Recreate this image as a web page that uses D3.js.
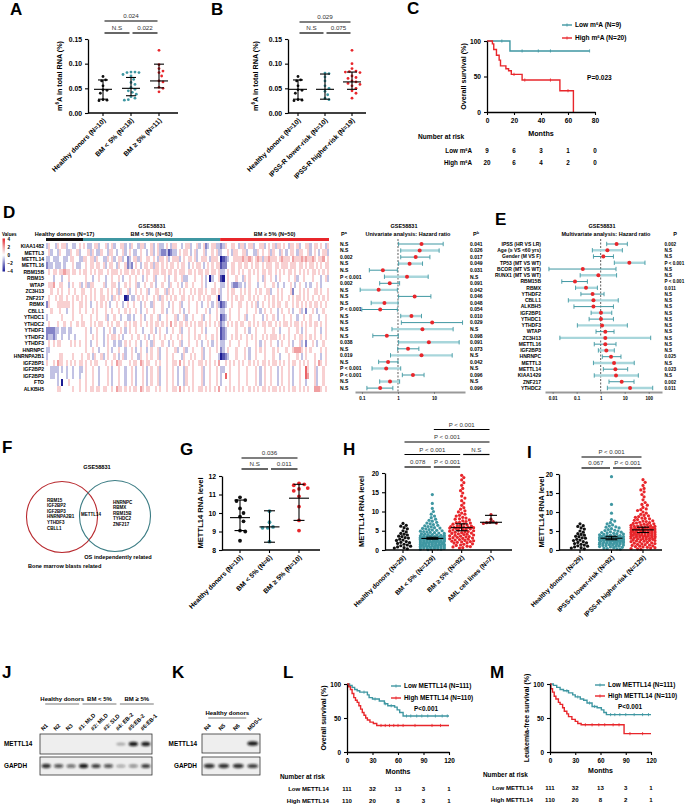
<!DOCTYPE html>
<html>
<head>
<meta charset="utf-8">
<script src="https://cdn.jsdelivr.net/npm/d3@7"></script>
<style>
  body { margin: 0; background: #fff; }
  svg { display: block; }
</style>
</head>
<body>
<div id="fig"></div>
<script>
var BLK = "#111111", TEAL = "#3f97a2", LTEAL = "#a8d6db", RED = "#e8262b";
var FONT = "'Liberation Sans', Arial, Helvetica, sans-serif";

// ---- A: m6A level by blast group ----
var aNames = ["Healthy donors (N=10)", "BM < 5% (N=18)", "BM ≥ 5% (N=11)"];
var aHealthy = [0.074, 0.067, 0.065, 0.055, 0.047, 0.046, 0.040, 0.027, 0.026, 0.025];
var aLow = [0.083, 0.083, 0.082, 0.082, 0.078, 0.075, 0.068, 0.062, 0.058, 0.052, 0.048, 0.045, 0.042, 0.038, 0.033, 0.030, 0.027, 0.026];
var aHigh = [0.127, 0.098, 0.090, 0.085, 0.082, 0.075, 0.065, 0.063, 0.052, 0.050, 0.043];
var aSumm = [[0.048, 0.028, 0.067], [0.050, 0.035, 0.072], [0.065, 0.051, 0.099]];

// ---- B: m6A level by IPSS-R ----
var bNames = ["Healthy donors (N=10)", "IPSS-R lower-risk (N=10)", "IPSS-R higher-risk (N=19)"];
var bLower = [0.081, 0.080, 0.073, 0.065, 0.055, 0.050, 0.044, 0.037, 0.030, 0.027];
var bHigher = [0.127, 0.100, 0.090, 0.085, 0.084, 0.083, 0.082, 0.075, 0.072, 0.070, 0.065, 0.063, 0.060, 0.058, 0.055, 0.050, 0.045, 0.040, 0.030];
var bSumm = [[0.048, 0.028, 0.067], [0.048, 0.028, 0.079], [0.063, 0.048, 0.083]];

// ---- C: survival by m6A ----
var cTicks = [0, 20, 40, 60, 80];
var cLowSteps = [[0, 100], [17, 86]];
var cLowCens = [11, 26, 38, 47, 76];
var cHighSteps = [[0, 100], [4, 96], [5, 88], [7, 80], [9, 73], [10, 65], [14, 61], [16, 58], [18, 53], [26, 45], [54, 30], [64, 0]];
var cHighCens = [20, 28, 47, 60];
var cRiskLow = [9, 6, 3, 1, 0];
var cRiskHigh = [20, 6, 4, 2, 0];

// ---- D: heatmap + univariate forest ----
var dGenes = ["KIAA1482", "METTL3", "METTL14", "METTL16", "RBM15B", "RBM15", "WTAP", "ZC3H13", "ZNF217", "RBMX", "CBLL1", "YTHDC1", "YTHDC2", "YTHDF1", "YTHDF2", "YTHDF3", "HNRNPC", "HNRNPA2B1", "IGF2BP1", "IGF2BP2", "IGF2BP3", "FTO", "ALKBH5"];
var dGroups = ["Healthy donors (N=17)", "BM < 5% (N=63)", "BM ≥ 5% (N=50)"];
var dGroupSize = [17, 63, 50];
// one digit per sample, digit - 4 = z value
var dHeat = [
  ["3544354553 4433454", "5433455344 5345344553 4354435534 4534533454 3554434553 4453452345 533", "2354455435 5345534455 3454535545 4355453445 5345545435"],
  ["4534435443 3544534", "4453543354 4355434453 4543345443 4534532231 2334545543 4534453445 453", "3445435544 5534433545 4453544354 3455435544 5345434553"],
  ["3343334433 4554433", "5545535443 3545345534 2345535445 5454355453 4555345455 4534555435 554", "0123445555 6556545653 5565554565 5546555656 5565455645"],
  ["2334333434 4454334", "4545545545 3455435445 2324543455 4535545454 5545455434 5455434545 455", "1224455455 4554545545 4555455455 5455545545 4554545455"],
  ["4545545565 5455454", "5545454554 4545554545 5455454545 5455545545 5454555455 4545545545 545", "3345455454 5445454545 5455454545 4554545454 5455454545"],
  ["4443444344 5444444", "4544344544 3445445434 4544544345 4453444543 4454453344 4544543403 445", "1045444544 3545444543 5445434544 4544534454 4454443453"],
  ["4556445544 3454453", "4535544445 3445543445 4544534454 4543445443 5445434544 5444543444 544", "3345432233 4345444344 5444543443 4454345443 4344543444"],
  ["4454454544 5445445", "5445454454 4545453544 5344545445 3445544535 4544545445 4545545445 545", "3445455445 4545445454 4553445454 4452445454 5445545445"],
  ["4544545545 4454545", "4545454455 4543545440 1433454545 4454535454 5454455454 5445454554 450", "3445454545 5445454544 5454545454 4545455454 5454454545"],
  ["2544455555 5454455", "4543445454 5434454434 5445443454 4354445443 4544534454 4454344543 453", "1234454455 4454545345 4454545544 5445454545 4545545454"],
  ["4454445443 4454454", "4544545444 5445445445 4544543445 4454445434 4544543454 4454445434 454", "3344544454 4454445434 5445443454 4543445342 4454344544"],
  ["3444444544 4454445", "4445445444 5344544344 3343445434 4544534454 4453445344 5444534454 454", "1234544454 4534454443 4544543445 4454434454 4544434454"],
  ["4544454454 4544545", "5445454554 4545455445 4545545445 4545545454 6454554545 4545545454 545", "2345454545 5445454545 5455454545 5454554545 4545545454"],
  ["2222334334 3344444", "4543445443 4454344543 4544544344 4543454434 4544534454 4544543444 454", "1234444544 4543445444 5444544344 4544454345 4445443454"],
  ["2332344344 3443444", "4544545443 4545545434 4454454454 3454454544 5445454454 4545445445 454", "1234454545 4454545445 4545554545 4544545545 4545445454"],
  ["4545455444 4545454", "4543445443 4544343345 4544543445 4354445443 4544534454 4454344543 454", "3344544454 4454445434 5445443454 4543445342 4454344544"],
  ["3344444444 4444444", "4544544344 4543445443 4454345443 4544534454 4453445344 5444534454 454", "2345444544 4543445454 5444545444 5445666545 4544445454"],
  ["3444445544 4454445", "4454354453 4544543453 4454435445 4544534454 4544435445 4544534454 443", "0123444544 4543445444 5444544344 4544454345 4445443454"],
  ["5445465545 4545455", "4545455444 5445465544 4545546545 5445454454 4554645454 5445545454 546", "4454545454 5445454545 5454554545 4545545454 5445465454"],
  ["4433334343 4434433", "4544544344 4543445443 4454344543 4544534454 4543443544 5444534454 454", "3344544454 4454445434 5445443454 4543445447 5445344544"],
  ["4433434443 4434434", "4544544344 4543445443 4454344543 4544534454 4543443544 5444534454 454", "3474544454 4454445434 5445443454 4543445447 6445344544"],
  ["4444434044 5444454", "4544544344 4543445443 4454344543 4544534454 4543443544 5444534454 454", "3444544454 4454445434 5445443454 4543445443 4445344544"],
  ["4444455444 4454454", "4545545545 5445465545 4545546545 5445454454 4554645454 5445545454 546", "4454545454 5445454545 5454554545 4545545454 5446665454"]
];
var dHR = [4.5, 4.0, 3.1, 2.1, 0.38, 1.78, 0.59, 0.29, 2.9, 0.42, 0.32, 2.36, 8.9, 4.77, 0.49, 7.2, 1.9, 4.5, 0.53, 0.47, 2.6, 0.6, 0.32];
var dLo = [1.04, 1.19, 1.19, 1.04, 0.16, 0.42, 0.31, 0.089, 1.04, 0.18, 0.099, 1.19, 1.24, 0.68, 0.2, 1.04, 0.98, 0.62, 0.29, 0.19, 1.32, 0.31, 0.137];
var dHi = [18, 13.9, 7.7, 4.8, 0.96, 6.9, 1.11, 0.96, 8.2, 1.0, 0.96, 4.5, 62, 34, 1.02, 50, 3.8, 32, 1.0, 1.19, 5.3, 1.11, 0.72];
var dPa = ["N.S", "N.S", "0.002", "N.S", "N.S", "P < 0.001", "0.002", "N.S", "N.S", "N.S", "P < 0.001", "N.S", "N.S", "N.S", "N.S", "0.038", "N.S", "0.019", "N.S", "P < 0.001", "P < 0.001", "N.S", "N.S"];
var dPb = ["0.041", "0.026", "0.017", "0.049", "0.031", "N.S", "0.091", "0.042", "0.046", "0.048", "0.054", "0.010", "0.029", "N.S", "0.098", "0.091", "0.073", "N.S", "0.042", "N.S", "0.096", "N.S", "0.096"];

// ---- E: multivariate forest ----
var eRows = ["IPSS (HR VS LR)", "Age (≥ VS <60 yrs)", "Gender (M VS F)", "TP53 (MT VS WT)", "BCOR (MT VS WT)", "RUNX1 (MT VS WT)", "RBM15B", "RBMX", "YTHDF2", "CBLL1", "ALKBH5", "IGF2BP1", "YTHDC1", "YTHDF3", "WTAP", "ZC3H13", "METTL16", "IGF2BP3", "HNRNPC", "METTL3", "METTL14", "KIAA1429", "ZNF217", "YTHDC2"];
var eHR = [4.6, 1.9, 1.29, 15.6, 0.18, 0.8, 0.085, 0.245, 0.46, 0.5, 0.5, 1.03, 1.03, 1.14, 1.56, 1.56, 1.56, 1.72, 2.7, 3.6, 4.1, 4.35, 7.5, 16.7];
var eLo = [1.78, 0.45, 0.5, 3.7, 0.007, 0.14, 0.024, 0.09, 0.15, 0.045, 0.077, 0.4, 0.33, 0.107, 0.64, 0.02, 0.54, 0.8, 1.17, 0.5, 1.29, 0.54, 2.22, 1.9];
var eHi = [12.9, 8.0, 3.4, 70, 4.35, 4.6, 0.28, 0.73, 1.38, 5.4, 3.4, 2.9, 3.4, 12.9, 3.6, 121, 4.35, 3.7, 7.0, 25, 13.3, 37, 24.5, 147];
var eP = ["0.002", "N.S", "N.S", "P < 0.001", "N.S", "N.S", "P < 0.001", "0.011", "N.S", "N.S", "N.S", "N.S", "N.S", "N.S", "N.S", "N.S", "N.S", "N.S", "0.025", "N.S", "0.023", "N.S", "0.002", "0.011"];

// ---- F: venn ----
var fBlasts = ["RBM15", "IGF2BP2", "IGF2BP3", "HNRNPA2B1", "YTHDF3", "CBLL1"];
var fShared = ["METTL14"];
var fOS = ["HNRNPC", "RBMX", "RBM15B", "TYHDC2", "ZNF217"];

// ---- G: METTL14 qPCR ----
var gNames = ["Healthy donors (N=10)", "BM < 5% (N=6)", "BM ≥ 5% (N=10)"];
var gHealthy = [10.85, 10.7, 10.65, 10.25, 10.0, 9.8, 9.55, 9.05, 9.0, 8.5];
var gLow = [10.1, 9.5, 9.25, 9.2, 9.2, 8.45];
var gHigh = [11.6, 11.55, 11.5, 11.35, 11.3, 11.2, 10.9, 10.35, 9.6, 9.05];
var gSumm = [[9.75, 9.05, 10.7], [9.25, 8.42, 10.12], [10.8, 9.6, 11.55]];

// ---- H / I: METTL14 RNA in GSE58831 ----
var hNames = ["Healthy donors (N=29)", "BM < 5% (N=129)", "BM ≥ 5% (N=92)", "AML cell lines (N=7)"];
var hHealthy = [0.3, 0.5, 0.6, 0.8, 1.0, 1.1, 1.3, 1.5, 1.7, 1.9, 2.0, 2.2, 2.5, 2.6, 2.8, 3.1, 3.2, 3.5, 3.6, 3.9, 4.1, 4.3, 4.7, 5.0, 5.5, 5.8, 6.2, 6.4, 6.9];
var hLow = [14.4, 12.1, 10.8, 10.0, 9.3, 8.8, 8.4, 8.0, 7.7, 7.5, 7.2, 7.0, 6.8, 6.6, 6.4, 6.3, 6.1, 6.0, 5.8, 5.7, 5.6, 5.5, 5.3, 5.2, 5.1, 5.0, 4.9, 4.8, 4.7, 4.6, 4.5, 4.4, 4.3, 4.2, 4.1, 4.0, 4.0, 3.9, 3.8, 3.8, 3.7, 3.6, 3.6, 3.5, 3.5, 3.4, 3.4, 3.3, 3.3, 3.2, 3.2, 3.1, 3.1, 3.0, 3.0, 3.0, 2.9, 2.9, 2.8, 2.8, 2.8, 2.7, 2.7, 2.6, 2.6, 2.6, 2.5, 2.5, 2.4, 2.4, 2.4, 2.3, 2.3, 2.2, 2.2, 2.2, 2.1, 2.1, 2.0, 2.0, 2.0, 1.9, 1.9, 1.8, 1.8, 1.8, 1.7, 1.7, 1.6, 1.6, 1.6, 1.5, 1.5, 1.4, 1.4, 1.4, 1.3, 1.3, 1.2, 1.2, 1.2, 1.1, 1.1, 1.0, 1.0, 1.0, 0.9, 0.9, 0.8, 0.8, 0.7, 0.7, 0.6, 0.6, 0.5, 0.5, 0.4, 0.4, 0.3, 0.3, 0.2, 0.2, 0.1, 3.0, 3.1, 2.9, 3.2, 2.8, 3.3];
var hHigh = [19.4, 18.8, 18.2, 17.5, 16.8, 16.0, 15.4, 14.8, 14.0, 13.5, 12.8, 12.2, 11.6, 11.0, 10.6, 10.2, 9.9, 9.6, 9.3, 9.0, 8.8, 8.5, 8.3, 8.0, 7.8, 7.6, 7.4, 7.2, 7.0, 6.8, 6.7, 6.5, 6.4, 6.2, 6.1, 6.0, 5.9, 5.8, 5.8, 5.7, 5.6, 5.5, 5.4, 5.3, 5.2, 5.1, 5.0, 4.9, 4.8, 4.7, 4.6, 4.5, 4.4, 4.3, 4.2, 4.1, 4.0, 3.9, 3.8, 3.7, 3.6, 3.5, 3.4, 3.3, 3.2, 3.1, 3.0, 2.9, 2.8, 2.7, 2.6, 2.5, 2.4, 2.3, 2.2, 2.1, 2.0, 1.9, 1.8, 1.6, 1.5, 1.3, 1.2, 1.0, 0.9, 0.8, 0.6, 0.5, 6.3, 5.9, 7.1, 8.1];
var hAML = [9.2, 8.0, 7.4, 7.2, 7.1, 6.9, 7.0];
var hSumm = [null, [3.0, 2.8, 3.3], [5.8, 5.0, 6.8], [7.2, 7.0, 9.0]];

var iNames = ["Healthy donors (N=29)", "IPSS-R lower-risk (N=92)", "IPSS-R higher-risk (N=129)"];
var iLower = [19.3, 12.0, 9.7, 8.0, 7.6, 7.2, 6.9, 6.6, 6.3, 6.0, 5.8, 5.6, 5.4, 5.2, 5.0, 4.8, 4.7, 4.5, 4.4, 4.2, 4.1, 4.0, 3.9, 3.8, 3.7, 3.6, 3.5, 3.4, 3.4, 3.3, 3.3, 3.2, 3.1, 3.1, 3.0, 3.0, 2.9, 2.9, 2.8, 2.8, 2.7, 2.7, 2.6, 2.6, 2.5, 2.5, 2.4, 2.4, 2.3, 2.3, 2.2, 2.2, 2.1, 2.1, 2.0, 2.0, 1.9, 1.9, 1.8, 1.8, 1.7, 1.7, 1.6, 1.5, 1.5, 1.4, 1.3, 1.3, 1.2, 1.1, 1.0, 1.0, 0.9, 0.8, 0.7, 0.6, 0.5, 0.4, 0.3, 0.2, 3.5, 3.0, 2.5, 4.3, 3.8, 2.9, 1.6, 5.1, 6.1, 4.6, 3.2, 2.7];
var iHigher = [18.5, 17.8, 17.0, 16.2, 15.8, 15.3, 14.6, 14.0, 13.2, 12.5, 11.8, 11.2, 10.8, 10.4, 10.0, 9.7, 9.4, 9.1, 8.8, 8.6, 8.4, 8.2, 8.0, 7.8, 7.6, 7.5, 7.3, 7.1, 7.0, 6.8, 6.7, 6.6, 6.4, 6.3, 6.2, 6.1, 6.0, 5.9, 5.8, 5.7, 5.6, 5.5, 5.5, 5.4, 5.3, 5.3, 5.2, 5.1, 5.0, 5.0, 4.9, 4.8, 4.8, 4.7, 4.6, 4.6, 4.5, 4.4, 4.4, 4.3, 4.2, 4.2, 4.1, 4.0, 4.0, 3.9, 3.8, 3.8, 3.7, 3.6, 3.6, 3.5, 3.4, 3.4, 3.3, 3.2, 3.2, 3.1, 3.0, 3.0, 2.9, 2.8, 2.7, 2.6, 2.5, 2.5, 2.4, 2.3, 2.2, 2.1, 2.0, 1.9, 1.8, 1.7, 1.6, 1.5, 1.4, 1.3, 1.2, 1.1, 1.0, 0.9, 0.8, 0.7, 0.6, 0.5, 0.4, 0.3, 0.2, 6.5, 5.9, 7.2, 4.9, 5.6, 6.9, 8.3, 9.0, 3.9, 4.4, 5.1, 2.8, 3.5, 6.0, 7.7, 10.6, 12.0, 5.4, 4.7, 6.2];
var iSumm = [null, [3.1, 2.7, 3.6], [5.3, 4.6, 6.0]];

// ---- J / K: western blots (band intensity 0..1) ----
var jLanes = ["N1", "N2", "N3", "#1: MLD", "#2: MLD", "#3: SLD", "#4: EB-2", "#5:EB-2", "#6:EB-1"];
var jMettl = [0, 0, 0, 0, 0, 0, 0.3, 0.95, 0.92];
var jGapdh = [0.85, 0.7, 0.6, 0.95, 0.8, 0.7, 0.35, 0.45, 0.8];
var jGroups = [["Healthy donors", 0, 2], ["BM < 5%", 3, 5], ["BM ≥ 5%", 6, 8]];
var kLanes = ["N4", "N5", "N6", "MDS-L"];
var kMettl = [0, 0, 0, 0.95];
var kGapdh = [0.85, 0.85, 0.85, 0.8];
var kGroups = [["Healthy donors", 0, 2]];

// ---- L / M: survival by METTL14 ----
var lmTicks = [0, 30, 60, 90, 120];
var lLowSteps = [[0, 100], [3, 98], [6, 95], [9, 92], [12, 90], [15, 88], [24, 84], [26, 80], [30, 78], [38, 75], [44, 71], [48, 68], [56, 66], [59, 62], [62, 58], [66, 53]];
var lLowCens = [20, 33, 45, 52, 70, 75, 82, 88, 95, 104, 112, 118];
var lHighSteps = [[0, 100], [2, 96], [4, 92], [6, 86], [8, 80], [10, 76], [12, 73], [14, 68], [16, 63], [18, 58], [20, 54], [22, 50], [24, 47], [27, 44], [31, 42], [35, 39]];
var lHighCens = [40, 45, 50, 55, 60, 66, 80, 100, 110];
var lRiskLow = [111, 32, 13, 3, 1];
var lRiskHigh = [110, 20, 8, 3, 1];
var mLowSteps = [[0, 100], [4, 98], [8, 95], [12, 92], [16, 90], [22, 87], [27, 84], [30, 81], [36, 78], [40, 76], [44, 72], [50, 67], [56, 65], [61, 62], [64, 58], [67, 55]];
var mLowCens = [20, 33, 47, 53, 72, 77, 83, 90, 100, 110, 117];
var mHighSteps = [[0, 100], [1, 93], [3, 88], [5, 82], [7, 78], [10, 73], [12, 70], [15, 65], [17, 60], [20, 56], [22, 52], [26, 48], [30, 45], [33, 42], [37, 40], [88, 27]];
var mHighCens = [42, 50, 58, 65, 75, 82, 95, 110];
var mRiskLow = [111, 32, 13, 3, 1];
var mRiskHigh = [110, 20, 8, 2, 1];

var svg = d3.select("#fig").append("svg").attr("width", 685).attr("height", 806)
  .attr("font-family", FONT).attr("font-weight", "bold");
var defs = svg.append("defs");
defs.append("filter").attr("id", "blur").attr("x", "-50%").attr("y", "-150%").attr("width", "200%").attr("height", "400%")
  .append("feGaussianBlur").attr("stdDeviation", 0.8);

function txt(x, y, s, fs, anchor, parent) {
  return (parent || svg).append("text").attr("x", x).attr("y", y).attr("font-size", fs)
    .attr("text-anchor", anchor || "start").text(s);
}
// text with "m6A" written as m superscript 6 A
function rich(sel, str, fs) {
  str.split("m6A").forEach(function (p, i) {
    if (i === 0) { sel.append("tspan").text(p); return; }
    sel.append("tspan").text("m");
    sel.append("tspan").attr("dy", -fs * 0.38).attr("font-size", fs * 0.65).text("6");
    sel.append("tspan").attr("dy", fs * 0.38).text("A" + p);
  });
  return sel;
}
function styleAxis(ax, fs) {
  ax.attr("font-family", FONT).attr("font-size", fs).attr("font-weight", "bold");
  ax.select(".domain").attr("stroke", "#000").attr("stroke-width", 1.3);
  ax.selectAll(".tick line").attr("stroke", "#000").attr("stroke-width", 1.1);
  ax.selectAll(".tick text").attr("fill", "#000");
}
function letter(s, x, y) { txt(x, y, s, 17, "start"); }

// simple beeswarm: place each point at the nearest free offset
function swarm(vals, y, sep, maxW) {
  var pts = vals.map(function (v) { return { v: v, py: y(v) }; })
    .sort(function (a, b) { return a.py - b.py; });
  var placed = [];
  pts.forEach(function (p) {
    var best = 0, bestC = Infinity;
    for (var k = 0; k < 100; k++) {
      var dx = (k % 2 ? 1 : -1) * Math.ceil(k / 2) * sep * 0.35;
      if (Math.abs(dx) > maxW / 2) break;
      var c = 0;
      placed.forEach(function (q) {
        var dd = Math.hypot(q.dx - dx, q.py - p.py);
        if (dd < sep) c += sep - dd;
      });
      if (c === 0) { best = dx; bestC = 0; break; }
      if (c < bestC) { bestC = c; best = dx; }
    }
    p.dx = best;
    placed.push(p);
  });
  return pts;
}

function scatterPanel(o) {
  var g = svg.append("g");
  var x = d3.scalePoint().domain(d3.range(o.names.length)).range(o.cats);
  var y = d3.scaleLinear().domain(o.domain).range(o.yr);
  o.series.forEach(function (vals, i) {
    var pts = swarm(vals, y, o.sep, o.maxW);
    g.append("g").selectAll("circle").data(pts).join("circle")
      .attr("cx", function (d) { return x(i) + d.dx; })
      .attr("cy", function (d) { return d.py; })
      .attr("r", o.r).attr("fill", o.colors[i]);
  });
  o.summ.forEach(function (s, i) {
    if (!s) return;
    var cx = x(i), gs = g.append("g").attr("stroke", "#000").attr("stroke-width", 1.1);
    gs.append("line").attr("x1", cx - o.mw).attr("x2", cx + o.mw).attr("y1", y(s[0])).attr("y2", y(s[0]));
    gs.append("line").attr("x1", cx).attr("x2", cx).attr("y1", y(s[1])).attr("y2", y(s[2]));
    [s[1], s[2]].forEach(function (v) {
      gs.append("line").attr("x1", cx - o.cw).attr("x2", cx + o.cw).attr("y1", y(v)).attr("y2", y(v));
    });
  });
  var ya = g.append("g").attr("transform", "translate(" + o.ax[0] + ",0)")
    .call(d3.axisLeft(y).tickValues(o.ticks).tickFormat(o.fmt).tickSize(3).tickSizeOuter(0));
  styleAxis(ya, o.fs);
  g.append("line").attr("x1", o.ax[0]).attr("x2", o.ax[1]).attr("y1", o.yr[0]).attr("y2", o.yr[0])
    .attr("stroke", "#000").attr("stroke-width", 1.3);
  g.selectAll("line.xt").data(x.domain()).join("line").attr("class", "xt")
    .attr("x1", function (i) { return x(i); }).attr("x2", function (i) { return x(i); })
    .attr("y1", o.yr[0]).attr("y2", o.yr[0] + 3).attr("stroke", "#000").attr("stroke-width", 1.1);
  g.selectAll("text.xl").data(o.names).join("text").attr("class", "xl")
    .attr("transform", function (d, i) { return "translate(" + (x(i) + 3) + "," + (o.yr[0] + 8) + ") rotate(-45)"; })
    .attr("text-anchor", "end").attr("font-size", o.fs).text(function (d) { return d; });
  var yt = g.append("text").attr("font-size", o.tfs)
    .attr("transform", "translate(" + o.ytx + "," + ((o.yr[0] + o.yr[1]) / 2) + ") rotate(-90)")
    .attr("text-anchor", "middle");
  rich(yt, o.ylab, o.tfs);
  o.br.forEach(function (b) {
    var yl = o.brY0 - b[3] * o.brStep, x1 = x(b[0]) + 1.5, x2 = x(b[1]) - 1.5;
    g.append("line").attr("x1", x1).attr("x2", x2).attr("y1", yl).attr("y2", yl)
      .attr("stroke", "#000").attr("stroke-width", 1.2);
    txt((x1 + x2) / 2, yl - 3, b[2], o.fs * 0.92, "middle", g).attr("font-weight", "normal").attr("fill", "#333");
  });
}

function survAt(steps, t) {
  var s = 100;
  steps.forEach(function (d) { if (d[0] <= t) s = d[1]; });
  return s;
}
function kmPanel(o) {
  var g = svg.append("g");
  var x = d3.scaleLinear().domain([0, o.tmax]).range([o.x0, o.x1]);
  var y = d3.scaleLinear().domain([0, 100]).range([o.y0, o.y1]);
  var line = d3.line().x(function (d) { return x(d[0]); }).y(function (d) { return y(d[1]); });
  o.curves.forEach(function (c) {
    var pts = [], prev = 100;
    c.steps.forEach(function (s) { pts.push([s[0], prev]); pts.push([s[0], s[1]]); prev = s[1]; });
    pts.push([c.end, prev]);
    g.append("path").attr("d", line(pts)).attr("fill", "none").attr("stroke", c.color).attr("stroke-width", 1.4);
    g.selectAll(null).data(c.cens).join("line")
      .attr("x1", function (t) { return x(t); }).attr("x2", function (t) { return x(t); })
      .attr("y1", function (t) { return y(survAt(c.steps, t)) - 1.6; })
      .attr("y2", function (t) { return y(survAt(c.steps, t)) + 1.6; })
      .attr("stroke", c.color).attr("stroke-width", 0.8);
  });
  var ya = g.append("g").attr("transform", "translate(" + o.x0 + ",0)")
    .call(d3.axisLeft(y).tickValues([0, 50, 100]).tickSize(3).tickSizeOuter(0));
  styleAxis(ya, o.fs);
  var xa = g.append("g").attr("transform", "translate(0," + o.y0 + ")")
    .call(d3.axisBottom(x).tickValues(o.ticks).tickSize(3).tickSizeOuter(0));
  styleAxis(xa, o.fs);
  txt((o.x0 + o.x1) / 2, o.xly, "Months", o.tfs, "middle", g);
  g.append("text").attr("font-size", o.tfs).attr("text-anchor", "middle")
    .attr("transform", "translate(" + o.ytx + "," + ((o.y0 + o.y1) / 2) + ") rotate(-90)").text(o.ylab);
  o.curves.forEach(function (c, i) {
    var ly = o.legY[i];
    g.append("line").attr("x1", o.legX).attr("x2", o.legX + 10).attr("y1", ly).attr("y2", ly)
      .attr("stroke", c.color).attr("stroke-width", 1.4);
    g.append("line").attr("x1", o.legX + 5).attr("x2", o.legX + 5).attr("y1", ly - 1.6).attr("y2", ly + 1.6)
      .attr("stroke", c.color).attr("stroke-width", 0.8);
    rich(txt(o.legX + 13, ly + 2.3, "", o.fs, "start", g), c.name, o.fs);
  });
  txt(o.pX, o.pY, o.p, o.fs, o.pAnchor, g);
  txt(o.riskX, o.riskY, "Number at risk", o.fs, "start", g);
  o.curves.forEach(function (c, i) {
    var ry = o.riskRowY[i];
    rich(txt(o.riskLX, ry, "", o.fs * 0.95, "end", g), c.short, o.fs * 0.95);
    g.selectAll(null).data(c.risk).join("text")
      .attr("x", function (d, j) { return x(o.ticks[j]); }).attr("y", ry)
      .attr("font-size", o.fs * 0.95).attr("text-anchor", "middle").text(function (d) { return d; });
  });
}

function forestPanel(o) {
  var g = svg.append("g");
  var x = d3.scaleLog().domain(o.domain).range(o.xr);
  var yy = function (i) { return o.y0 + i * o.step; };
  var n = o.hr.length;
  g.append("line").attr("x1", x(1)).attr("x2", x(1)).attr("y1", o.y0 - 5).attr("y2", o.axisY)
    .attr("stroke", "#333").attr("stroke-width", 0.8).attr("stroke-dasharray", "2,1.5");
  d3.range(n).forEach(function (i) {
    var light = i % 2 === 1, yc = yy(i);
    g.append("line").attr("x1", x(o.lo[i])).attr("x2", x(o.hi[i])).attr("y1", yc).attr("y2", yc)
      .attr("stroke", light ? LTEAL : TEAL).attr("stroke-width", light ? 2.4 : 1);
    [o.lo[i], o.hi[i]].forEach(function (v) {
      g.append("line").attr("x1", x(v)).attr("x2", x(v)).attr("y1", yc - 2.2).attr("y2", yc + 2.2)
        .attr("stroke", TEAL).attr("stroke-width", 0.9);
    });
    g.append("circle").attr("cx", x(o.hr[i])).attr("cy", yc).attr("r", 2).attr("fill", RED);
  });
  var xa = g.append("g").attr("transform", "translate(0," + o.axisY + ")")
    .call(d3.axisBottom(x).tickValues(o.ticks).tickFormat(function (d) { return String(d); }).tickSize(2).tickSizeOuter(0));
  styleAxis(xa, 4.5);
  xa.select(".domain").attr("stroke", "#999").attr("stroke-width", 1.8);
  xa.selectAll(".tick line").attr("stroke", "#555").attr("stroke-width", 0.6);
  txt(o.titleX, 228, "GSE58831", 5.5, "middle", g);
  txt(o.titleX + 4, 235.5, o.title, 5.5, "middle", g);
  o.cols.forEach(function (c) {
    var h = txt(c.hx, 235.5, c.head, 5.5, "middle", g);
    if (c.sup) h.append("tspan").attr("dy", -2).attr("font-size", 3.8).text(c.sup);
    g.selectAll(null).data(c.vals).join("text")
      .attr("x", c.x).attr("y", function (d, i) { return yy(i) + 1.8; })
      .attr("font-size", c.fs || 5).text(function (d) { return d; });
  });
  if (o.labels) {
    g.selectAll(null).data(o.labels).join("text")
      .attr("x", o.lx).attr("y", function (d, i) { return yy(i) + 1.8; })
      .attr("font-size", 5).attr("text-anchor", "end").text(function (d) { return d; });
  }
}

function blotPanel(o) {
  var g = svg.append("g");
  var x = d3.scalePoint().domain(o.lanes).range([o.x0, o.x1]).padding(0.5);
  var bw = x.step() * 0.74;
  o.rows.forEach(function (r) {
    g.append("rect").attr("x", o.x0).attr("y", r.y0).attr("width", o.x1 - o.x0).attr("height", r.y1 - r.y0)
      .attr("fill", "#eeeeee").attr("stroke", "#333").attr("stroke-width", 0.8);
    g.append("g").attr("filter", "url(#blur)").selectAll("ellipse").data(r.vals).join("ellipse")
      .attr("cx", function (d, i) { return x(o.lanes[i]); }).attr("cy", (r.y0 + r.y1) / 2)
      .attr("rx", bw / 2).attr("ry", function (d) { return 1.2 + d * 1.1; })
      .attr("fill", "#111").attr("opacity", function (d) { return d; });
    txt(o.lx, (r.y0 + r.y1) / 2 + 2.2, r.label, 6.4, o.la, g);
  });
  g.selectAll(null).data(o.lanes).join("text")
    .attr("transform", function (d) { return "translate(" + (x(d) - 3) + "," + (o.rows[0].y0 - 3) + ") rotate(-45)"; })
    .attr("font-size", 5.6).text(function (d) { return d; });
  o.groups.forEach(function (gr) {
    var a = x(o.lanes[gr[1]]) - 1, b = x(o.lanes[gr[2]]) + 8;
    g.append("line").attr("x1", a).attr("x2", b).attr("y1", o.gy).attr("y2", o.gy)
      .attr("stroke", "#777").attr("stroke-width", 1);
    txt((a + b) / 2, o.gy - 3, gr[0], 6, "middle", g);
  });
}

// ---------------- A ----------------
letter("A", 10, 15);
scatterPanel({
  names: aNames, series: [aHealthy, aLow, aHigh], summ: aSumm, colors: [BLK, TEAL, RED],
  cats: [103, 159], ax: [88, 178], yr: [113, 39], domain: [0, 0.15], ticks: [0, 0.05, 0.1, 0.15],
  fmt: d3.format(".2f"), r: 1.4, sep: 3.8, maxW: 24, mw: 9, cw: 5, fs: 6.8, tfs: 7.2,
  ylab: "m6A in total RNA (%)", ytx: 62,
  br: [[0, 1, "N.S", 0], [1, 2, "0.022", 0], [0, 2, "0.024", 1]], brY0: 33, brStep: 12
});
// ---------------- B ----------------
letter("B", 211, 15);
scatterPanel({
  names: bNames, series: [aHealthy, bLower, bHigher], summ: bSumm, colors: [BLK, TEAL, RED],
  cats: [298, 352], ax: [288, 366], yr: [113, 39], domain: [0, 0.15], ticks: [0, 0.05, 0.1, 0.15],
  fmt: d3.format(".2f"), r: 1.4, sep: 3.8, maxW: 22, mw: 9, cw: 5, fs: 6.8, tfs: 7.2,
  ylab: "m6A in total RNA (%)", ytx: 258,
  br: [[0, 1, "N.S", 0], [1, 2, "0.075", 0], [0, 2, "0.029", 1]], brY0: 33, brStep: 11
});
// ---------------- C ----------------
letter("C", 407, 14);
kmPanel({
  x0: 487, x1: 595, y0: 112, y1: 41, tmax: 80, ticks: cTicks, fs: 6.6, tfs: 7.2,
  ylab: "Overall survival (%)", ytx: 466, xly: 136,
  curves: [
    { steps: cLowSteps, end: 76, cens: cLowCens, color: TEAL, name: "Low m6A (N=9)", short: "Low m6A", risk: cRiskLow },
    { steps: cHighSteps, end: 64, cens: cHighCens, color: RED, name: "High m6A (N=20)", short: "High m6A", risk: cRiskHigh }
  ],
  legX: 562, legY: [25, 38], p: "P=0.023", pX: 587, pY: 80, pAnchor: "start",
  riskX: 418, riskY: 139, riskLX: 472, riskRowY: [153, 165]
});

// ---------------- D heatmap ----------------
letter("D", 3, 218);
(function () {
  var g = svg.append("g");
  var nCols = d3.sum(dGroupSize);
  var hx = d3.scaleBand().domain(d3.range(nCols)).range([46, 329]);
  var hy = d3.scaleBand().domain(dGenes).range([243, 392]);
  var col = d3.scaleLinear().domain([-4, -2, 0, 2, 4]).range(["#1c1c94", "#8585c8", "#ffffff", "#f0a0a2", "#e3262d"]);
  var cells = [];
  dHeat.forEach(function (segs, r) {
    var vals = [];
    segs.forEach(function (s, k) {
      var t = (s.replace(/ /g, "") + "4".repeat(dGroupSize[k])).slice(0, dGroupSize[k]);
      t.split("").forEach(function (ch) { vals.push(+ch - 4); });
    });
    vals.forEach(function (v, c) { cells.push({ r: dGenes[r], c: c, v: v }); });
  });
  g.append("g").attr("shape-rendering", "crispEdges").selectAll("rect").data(cells).join("rect")
    .attr("x", function (d) { return hx(d.c); }).attr("y", function (d) { return hy(d.r); })
    .attr("width", hx.bandwidth() + 0.4).attr("height", hy.bandwidth() + 0.3)
    .attr("fill", function (d) { return col(d.v); });
  var start = 0, bars = [BLK, TEAL, RED];
  dGroupSize.forEach(function (n, k) {
    var x0 = hx(start), x1 = hx(start + n - 1) + hx.bandwidth();
    g.append("rect").attr("x", x0).attr("y", 238).attr("width", x1 - x0).attr("height", 3).attr("fill", bars[k]);
    txt((x0 + x1) / 2, 235.5, dGroups[k], 5.6, "middle", g);
    start += n;
  });
  txt(152, 228, "GSE58831", 5.6, "middle", g);
  g.selectAll("text.gn").data(dGenes).join("text").attr("class", "gn")
    .attr("x", 44).attr("y", function (d) { return hy(d) + hy.bandwidth() / 2 + 1.8; })
    .attr("text-anchor", "end").attr("font-size", 5).text(function (d) { return d; });
  // colour legend
  var grad = defs.append("linearGradient").attr("id", "hm").attr("x1", 0).attr("x2", 0).attr("y1", 0).attr("y2", 1);
  [4, 2, 0, -2, -4].forEach(function (v, i) {
    grad.append("stop").attr("offset", (i * 25) + "%").attr("stop-color", col(v));
  });
  txt(2, 236, "Values", 4.6, "start", g);
  g.append("rect").attr("x", 2.5).attr("y", 238.5).attr("width", 2.5).attr("height", 33).attr("fill", "url(#hm)");
  var ly = d3.scaleLinear().domain([-4, 4]).range([271, 239.5]);
  [4, 2, 0, -2, -4].forEach(function (v) {
    txt(7.5, ly(v) + 1.6, v < 0 ? "\u2212" + (-v) : String(v), 4.6, "start", g);
  });
})();
forestPanel({
  hr: dHR, lo: dLo, hi: dHi, domain: [0.064, 72.6], xr: [355, 465], ticks: [0.1, 1, 10],
  y0: 244, step: 6.55, axisY: 392, titleX: 404, title: "Univariate analysis: Hazard ratio",
  cols: [{ x: 340, hx: 344, head: "P", sup: "a", vals: dPa }, { x: 470, hx: 476, head: "P", sup: "b", vals: dPb }]
});
// ---------------- E ----------------
letter("E", 495, 225);
forestPanel({
  hr: eHR, lo: eLo, hi: eHi, domain: [0.0048, 358], xr: [545, 662], ticks: [0.01, 0.1, 1, 10, 100],
  y0: 244, step: 6.26, axisY: 392, titleX: 602, title: "Multivariate analysis: Hazard ratio",
  cols: [{ x: 664.5, hx: 675, head: "P", sup: null, vals: eP, fs: 4.6 }], labels: eRows, lx: 541
});

// ---------------- F venn ----------------
letter("F", 2, 453);
(function () {
  var g = svg.append("g");
  txt(97, 469, "GSE58831", 5.6, "middle", g);
  g.append("circle").attr("cx", 62).attr("cy", 517).attr("r", 35.5).attr("fill", "none").attr("stroke", "#b8292e").attr("stroke-width", 1.1);
  g.append("circle").attr("cx", 115).attr("cy", 516).attr("r", 35.5).attr("fill", "none").attr("stroke", "#3b7c84").attr("stroke-width", 1.1);
  var ly = d3.scalePoint().domain(d3.range(fBlasts.length)).range([500, 528]);
  fBlasts.forEach(function (s, i) { txt(47, ly(i) + 1.6, s, 4.5, "start", g); });
  var ry = d3.scalePoint().domain(d3.range(fOS.length)).range([502, 524]);
  fOS.forEach(function (s, i) { txt(113, ry(i) + 1.6, s, 4.5, "start", g); });
  txt(91, 516, fShared[0], 4.5, "middle", g);
  txt(118, 559, "OS independently related", 5.6, "middle", g);
  txt(28, 568, "Bone marrow blasts related", 5.6, "start", g);
})();

// ---------------- G ----------------
letter("G", 180, 455);
scatterPanel({
  names: gNames, series: [gHealthy, gLow, gHigh], summ: gSumm, colors: [BLK, TEAL, RED],
  cats: [240, 299], ax: [222, 320], yr: [550, 476], domain: [8, 12], ticks: [8, 9, 10, 11, 12],
  fmt: d3.format("d"), r: 1.9, sep: 5, maxW: 24, mw: 10, cw: 5.5, fs: 6.8, tfs: 7.6,
  ylab: "METTL14 RNA level", ytx: 203,
  br: [[0, 1, "N.S", 0], [1, 2, "0.011", 0], [0, 2, "0.036", 1]], brY0: 469, brStep: 11
});
// ---------------- H ----------------
letter("H", 343, 455);
scatterPanel({
  names: hNames, series: [hHealthy, hLow, hHigh, hAML], summ: hSumm, colors: [BLK, TEAL, RED, "#c8232a"],
  cats: [403, 491], ax: [385, 512], yr: [550, 473], domain: [0, 20], ticks: [0, 5, 10, 15, 20],
  fmt: d3.format("d"), r: 1.6, sep: 3.1, maxW: 26, mw: 11, cw: 6, fs: 6.6, tfs: 7.6,
  ylab: "METTL14 RNA level", ytx: 364,
  br: [[0, 1, "0.078", 0], [1, 2, "P < 0.001", 0], [0, 2, "P < 0.001", 1], [2, 3, "N.S", 1], [0, 3, "P < 0.001", 2], [1, 3, "P < 0.001", 3]],
  brY0: 467, brStep: 12.5
});
// ---------------- I ----------------
letter("I", 527, 458);
scatterPanel({
  names: iNames, series: [hHealthy, iLower, iHigher], summ: iSumm, colors: [BLK, TEAL, RED],
  cats: [580, 643], ax: [559, 662], yr: [550, 474], domain: [0, 20], ticks: [0, 5, 10, 15, 20],
  fmt: d3.format("d"), r: 1.6, sep: 3.1, maxW: 26, mw: 11, cw: 6, fs: 6.6, tfs: 7.6,
  ylab: "METTL14 RNA level", ytx: 544,
  br: [[0, 1, "0.067", 0], [1, 2, "P < 0.001", 0], [0, 2, "P < 0.001", 1]], brY0: 468, brStep: 11
});

// ---------------- J / K ----------------
letter("J", 2, 678);
blotPanel({
  lanes: jLanes, x0: 40, x1: 152, lx: 4, la: "start", gy: 704, groups: jGroups,
  rows: [{ label: "METTL14", y0: 734, y1: 754, vals: jMettl }, { label: "GAPDH", y0: 757, y1: 775, vals: jGapdh }]
});
letter("K", 172, 678);
blotPanel({
  lanes: kLanes, x0: 202, x1: 260, lx: 197, la: "end", gy: 718, groups: kGroups,
  rows: [{ label: "METTL14", y0: 734, y1: 753, vals: kMettl }, { label: "GAPDH", y0: 757, y1: 775, vals: kGapdh }]
});

// ---------------- L ----------------
letter("L", 283, 678);
kmPanel({
  x0: 347, x1: 449, y0: 752, y1: 684, tmax: 120, ticks: lmTicks, fs: 6.4, tfs: 7,
  ylab: "Overall survival (%)", ytx: 326, xly: 774,
  curves: [
    { steps: lLowSteps, end: 120, cens: lLowCens, color: TEAL, name: "Low METTL14 (N=111)", short: "Low METTL14", risk: lRiskLow },
    { steps: lHighSteps, end: 120, cens: lHighCens, color: RED, name: "High METTL14 (N=110)", short: "High METTL14", risk: lRiskHigh }
  ],
  legX: 391, legY: [686, 698], p: "P<0.001", pX: 426, pY: 711, pAnchor: "middle",
  riskX: 280, riskY: 779, riskLX: 329, riskRowY: [791, 803]
});
// ---------------- M ----------------
letter("M", 490, 678);
kmPanel({
  x0: 550, x1: 651, y0: 752, y1: 684, tmax: 120, ticks: lmTicks, fs: 6.4, tfs: 7,
  ylab: "Leukemia-free survival (%)", ytx: 529, xly: 773,
  curves: [
    { steps: mLowSteps, end: 120, cens: mLowCens, color: TEAL, name: "Low METTL14 (N=111)", short: "Low METTL14", risk: mRiskLow },
    { steps: mHighSteps, end: 120, cens: mHighCens, color: RED, name: "High METTL14 (N=110)", short: "High METTL14", risk: mRiskHigh }
  ],
  legX: 595, legY: [685, 696], p: "P<0.001", pX: 630, pY: 709, pAnchor: "middle",
  riskX: 483, riskY: 777, riskLX: 533, riskRowY: [790, 802]
});
</script>
</body>
</html>
